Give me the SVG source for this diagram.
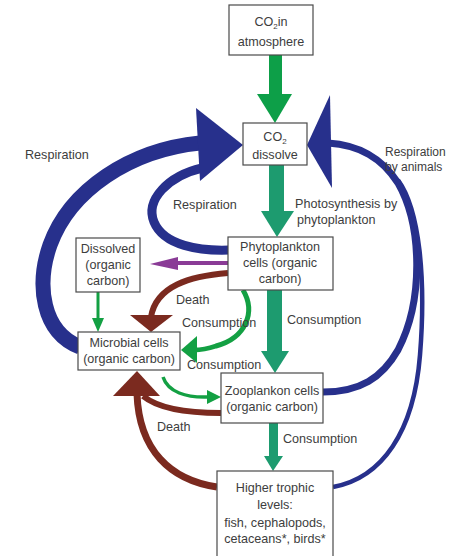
<svg xmlns="http://www.w3.org/2000/svg" width="449" height="556" viewBox="0 0 449 556">
<style>
.box{fill:#fff;stroke:#4a4a4a;stroke-width:1.2}
text{font-family:"Liberation Sans",Arial,sans-serif;font-size:12.6px;fill:#3d3d3d}
.c{text-anchor:middle}
.blue{fill:none;stroke:#27308c;stroke-linecap:butt}
.bluef{fill:#27308c}
.brown{fill:none;stroke:#7b2a1f}
.brownf{fill:#7b2a1f}
.green{fill:none;stroke:#13a043}
.greenf{fill:#13a043}
.teal{fill:#1d9b6f}
.purple{fill:none;stroke:#8a3b96}
.purplef{fill:#8a3b96}
.sub{font-size:8px}
.sm{font-size:12px}
</style>
<rect width="449" height="556" fill="#fff"/>
<g id="connectors">
  <rect x="269" y="55" width="13" height="40" fill="#0d9f48"/>
  <polygon points="257,94 292,94 275,123" fill="#0d9f48"/>
  <rect class="teal" x="269" y="165" width="15" height="47"/>
  <polygon class="teal" points="261,211 294,211 277,237"/>
  <rect class="teal" x="267" y="290" width="15" height="62"/>
  <polygon class="teal" points="261,351 289,351 275,373"/>
  <rect class="teal" x="269" y="423" width="9" height="34"/>
  <polygon class="teal" points="264,456 283,456 273,471"/>
  <path class="blue" stroke-width="15" d="M80,347 C42,332 36,285 50,245 C70,190 130,150 200,143"/>
  <path class="blue" stroke-width="9" d="M202,168 C168,176 145,200 154,222 C164,246 200,251 229,250"/>
  <polygon class="bluef" points="196,108 243,145 200,181"/>
  <path class="blue" stroke-width="7" d="M323,392 C360,392 382,378 398,350 C424,300 422,225 398,183 C382,158 360,145 328,143"/>
  <path class="blue" stroke-width="4.5" d="M333,487 C382,478 414,432 420,355 C426,280 420,210 398,180"/>
  <polygon class="bluef" points="330,95 307,145 332,188"/>
  <line class="purple" stroke-width="4" x1="228" y1="263" x2="175" y2="263"/>
  <polygon class="purplef" points="178,257 178,270 150,264"/>
  <path class="brown" stroke-width="6" d="M228,273 C190,276 156,286 151,317"/>
  <polygon class="brownf" points="130,315 173,315 151,332"/>
  <path class="green" stroke-width="5" d="M243,290 C256,312 246,338 216,346 C207,349 201,350 194,350"/>
  <polygon class="greenf" points="197,336 197,363 181,350"/>
  <line class="green" stroke-width="3" x1="98" y1="292" x2="98" y2="320"/>
  <polygon class="greenf" points="92,318 104,318 98,332"/>
  <path class="green" stroke-width="3.5" d="M163,377 C168,392 186,398 209,397"/>
  <polygon class="greenf" points="207,390 207,404 221,397"/>
  <path class="brown" stroke-width="6" d="M221,413 C190,413 160,410 143,396"/>
  <path class="brown" stroke-width="7" d="M217,487 C170,480 139,450 137,394"/>
  <polygon class="brownf" points="113,396 160,396 137,371"/>
</g>
<g id="atmosphere">
  <rect class="box" x="229" y="5" width="84" height="50"/>
  <text class="c" x="271" y="26">CO<tspan class="sub" dy="3">2</tspan><tspan dy="-3">in</tspan></text>
  <text class="c" x="271" y="46">atmosphere</text>
</g>
<g id="dissolve">
  <rect class="box" x="243" y="123" width="64" height="42"/>
  <text class="c" x="275" y="141">CO<tspan class="sub" dy="3">2</tspan></text>
  <text class="c" x="275" y="159">dissolve</text>
</g>
<g id="phytoplankton">
  <rect class="box" x="228" y="237" width="105" height="53"/>
  <text class="c" x="280" y="251">Phytoplankton</text>
  <text class="c" x="280" y="267">cells (organic</text>
  <text class="c" x="280" y="283">carbon)</text>
</g>
<g id="dissolved">
  <rect class="box" x="76" y="238" width="64" height="54"/>
  <text class="c" x="108" y="253">Dissolved</text>
  <text class="c" x="108" y="269">(organic</text>
  <text class="c" x="108" y="285">carbon)</text>
</g>
<g id="microbial">
  <rect class="box" x="78" y="332" width="102" height="38"/>
  <text class="c" x="129" y="347">Microbial cells</text>
  <text class="c" x="129" y="363">(organic carbon)</text>
</g>
<g id="zooplankon">
  <rect class="box" x="221" y="373" width="102" height="50"/>
  <text class="c" x="272" y="395">Zooplankon cells</text>
  <text class="c" x="272" y="411">(organic carbon)</text>
</g>
<g id="higher">
  <rect class="box" x="217" y="471" width="116" height="95"/>
  <text class="c" x="275" y="492">Higher trophic</text>
  <text class="c" x="275" y="509">levels:</text>
  <text class="c" x="275" y="527">fish, cephalopods,</text>
  <text class="c" x="275" y="543">cetaceans*, birds*</text>
</g>
<g id="labels">
  <text x="25" y="159">Respiration</text>
  <text class="sm" x="385" y="156">Respiration</text>
  <text class="sm" x="385" y="171">by animals</text>
  <text x="173" y="209">Respiration</text>
  <text x="295" y="208">Photosynthesis by</text>
  <text x="297" y="224">phytoplankton</text>
  <text x="176" y="304">Death</text>
  <text x="182" y="327">Consumption</text>
  <text x="287" y="324">Consumption</text>
  <text x="187" y="369">Consumption</text>
  <text x="157" y="431">Death</text>
  <text x="283" y="443">Consumption</text>
</g>
</svg>
